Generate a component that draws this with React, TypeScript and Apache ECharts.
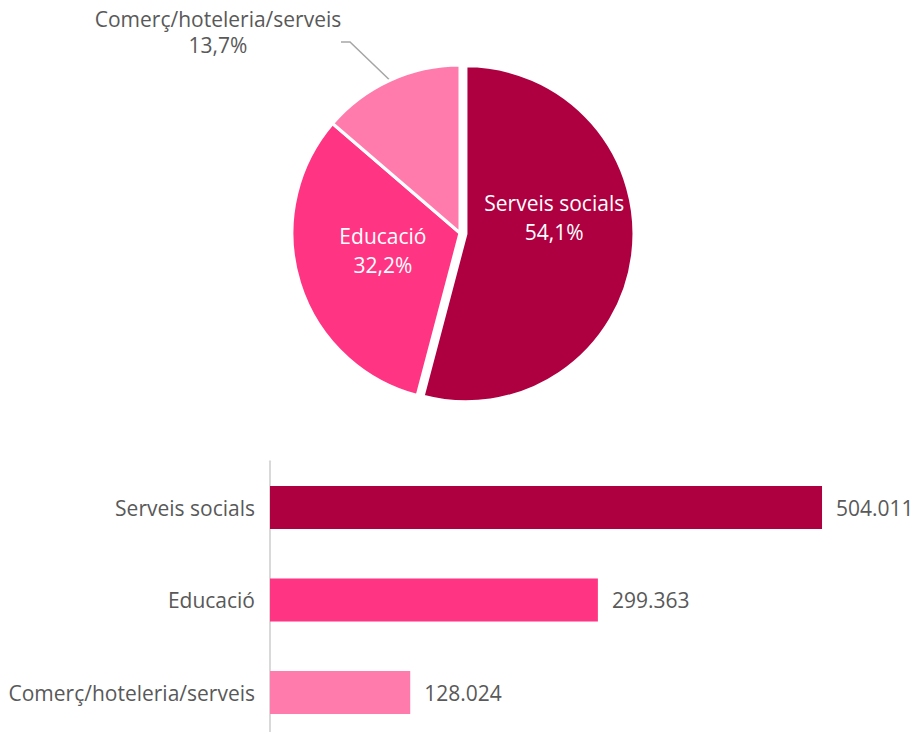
import React, { useEffect, useRef } from "react";
import * as echarts from "echarts";

const categories = ["Serveis socials", "Educació", "Comerç/hoteleria/serveis"];
const barValues = [504011, 299363, 128024];
const pieShares = [54.1, 32.2, 13.7];
const colors = ["#AE0041", "#FF3583", "#FF7BAC"];

const FONT = "'Open Sans', sans-serif";
const fmtThousands = (v: number) => String(v).replace(/\B(?=(\d{3})+(?!\d))/g, ".");
const fmtPct = (v: number) => v.toFixed(1).replace(".", ",") + "%";

export default function App() {
  const ref = useRef<HTMLDivElement>(null);
  useEffect(() => {
    if (!ref.current) return;
    const chart = echarts.init(ref.current, null, { renderer: "svg" });
    chart.setOption({
      animation: false,
      backgroundColor: "#ffffff",
      textStyle: { fontFamily: FONT },
      grid: {
        left: 270,
        top: 461.25,
        width: 602.4,
        height: 277.5,
        outerBoundsMode: "none",
        containLabel: false,
      },
      xAxis: { type: "value", min: 0, max: 550000, show: false },
      yAxis: {
        type: "category",
        data: categories,
        inverse: true,
        axisLine: { show: true, lineStyle: { color: "#D9D9D9", width: 2 } },
        axisTick: { show: false },
        axisLabel: { color: "#595959", fontSize: 21, fontFamily: FONT, margin: 15 },
        splitLine: { show: false },
      },
      series: [
        {
          type: "bar",
          data: barValues.map((v, i) => ({ value: v, itemStyle: { color: colors[i] } })),
          barWidth: 43,
          label: {
            show: true,
            position: "right",
            distance: 14,
            color: "#595959",
            fontSize: 21,
            fontFamily: FONT,
            formatter: (p: any) => fmtThousands(p.value),
          },
        },
        {
          type: "pie",
          center: [460, 233],
          radius: 168,
          startAngle: 90,
          clockwise: true,
          selectedMode: "single",
          selectedOffset: 6,
          itemStyle: { borderColor: "#ffffff", borderWidth: 3 },
          emphasis: { disabled: true },
          data: pieShares.map((v, i) => ({
            name: categories[i],
            value: v,
            selected: i === 0,
            itemStyle: { color: colors[i] },
            label:
              i === 2
                ? { position: "outside", color: "#595959", lineHeight: 26 }
                : { position: "inside", color: "#ffffff", lineHeight: 29 },
            labelLine: i === 2 ? { show: true } : { show: false },
          })),
          label: {
            show: true,
            fontSize: 21,
            fontFamily: FONT,
            formatter: (p: any) => `${p.name}\n${fmtPct(p.value)}`,
          },
          labelLine: {
            length: 30,
            length2: 10,
            lineStyle: { color: "#A6A6A6", width: 1.5 },
          },
          labelLayout: (p: any) => {
            if (p.dataIndex === 0) return { dx: 2, dy: -27 };
            if (p.dataIndex === 1) return { dx: 6, dy: -8 };
            const start = p.labelLinePoints ? p.labelLinePoints[0] : [390, 80];
            return {
              x: 218,
              y: 32,
              align: "center",
              verticalAlign: "middle",
              labelLinePoints: [start, [350, 42], [341, 42]],
            };
          },
        },
      ],
    });
    return () => chart.dispose();
  }, []);
  return (
    <div
      ref={ref}
      style={{ position: "absolute", left: 0, top: 0, width: 917, height: 732 }}
    />
  );
}
